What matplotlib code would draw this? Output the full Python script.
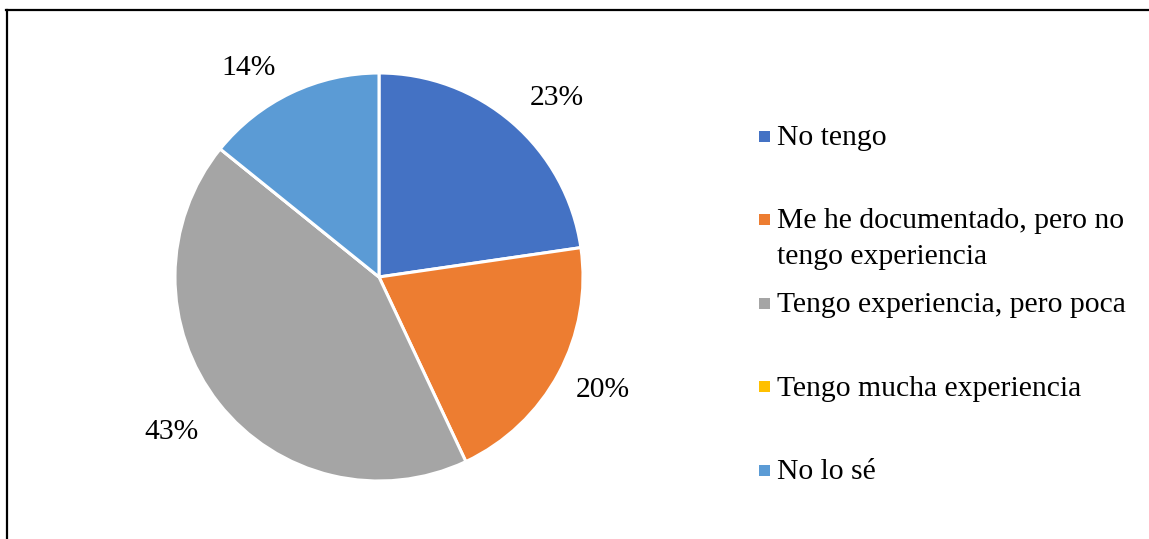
import matplotlib
matplotlib.use('Agg')
import numpy as np
import matplotlib.pyplot as plt
from matplotlib.lines import Line2D
from matplotlib.patches import Rectangle

plt.rcParams['font.family'] = ['Liberation Serif', 'DejaVu Serif']

# shares (labels show them rounded)
categories = ['No tengo',
              'Me he documentado, pero no\ntengo experiencia',
              'Tengo experiencia, pero poca',
              'Tengo mucha experiencia',
              'No lo sé']
shares = [22.7, 20.3, 42.8, 0.0, 14.2]
colors = ['#4472C4', '#ED7D31', '#A5A5A5', '#FFC000', '#5B9BD5']

# Excel "best fit" label placement: angle nudge (deg) and distance (radii)
label_nudge = [-3.9, 1.4, -1.4, 0.0, 6.4]
label_dist = [1.235, 1.23, 1.27, 1.2, 1.21]

W, H = 1149, 539
FS = 21.3
fig = plt.figure(figsize=(W / 100, H / 100), dpi=100)
fig.patch.set_facecolor('white')

# pie axes: square box in pixels, centre ~(379, 277), radius ~204
cx, cy, r = 379, 277, 204
ax = fig.add_axes([(cx - r) / W, (H - cy - r) / H, 2 * r / W, 2 * r / H])


def pct_label(p):
    return '' if p < 0.5 else f'{p:.0f}%'


wedges, texts, autotexts = ax.pie(
    shares, colors=colors, startangle=90, counterclock=False,
    autopct=pct_label, pctdistance=1.24,
    wedgeprops=dict(edgecolor='white', linewidth=2.2),
    textprops=dict(fontsize=FS, color='#000000'))

for w, t, nd, d in zip(wedges, autotexts, label_nudge, label_dist):
    ang = np.deg2rad((w.theta1 + w.theta2) / 2 + nd)
    t.set_position((d * np.cos(ang), d * np.sin(ang)))

ax.set_xlim(-1, 1)
ax.set_ylim(-1, 1)
ax.set_aspect('equal')
ax.axis('off')

# legend drawn by hand so that the wrapped entry keeps Excel's spacing
mk = 11
line_h = 35
for i, (lab, col) in enumerate(zip(categories, colors)):
    yc = 136 + 83.5 * i
    fig.add_artist(Rectangle(((764 - mk / 2) / W, (H - yc - mk / 2) / H),
                             mk / W, mk / H, transform=fig.transFigure,
                             facecolor=col, edgecolor='none'))
    for j, part in enumerate(lab.split('\n')):
        fig.text(777 / W, (H - yc - 9 - line_h * j) / H, part, fontsize=FS,
                 ha='left', va='baseline')

# frame lines (top and left; the rest is outside the crop)
fig.add_artist(Line2D([6 / W, 1], [1 - 9.5 / H, 1 - 9.5 / H],
                      transform=fig.transFigure, color='black', lw=1.6))
fig.add_artist(Line2D([7 / W, 7 / W], [0, 1 - 9.5 / H],
                      transform=fig.transFigure, color='black', lw=1.6))

fig.savefig('out.png', dpi=100, facecolor='white')
